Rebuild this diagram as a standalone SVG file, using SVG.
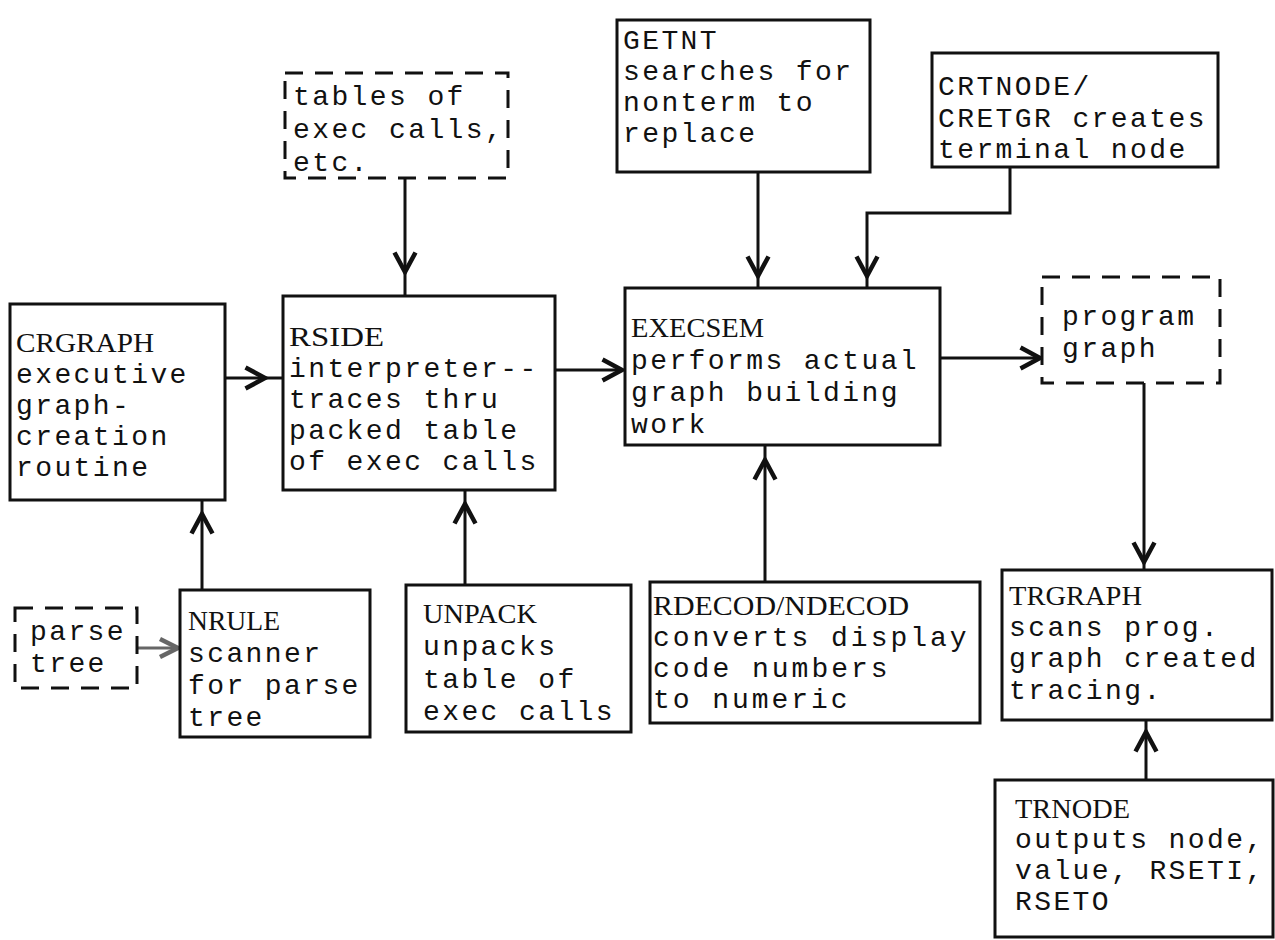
<svg xmlns="http://www.w3.org/2000/svg" width="1275" height="940" viewBox="0 0 1275 940">
<defs>
<style>
.box{fill:#fff;stroke:#111;stroke-width:3}
.dbox{fill:#fff;stroke:#111;stroke-width:3;stroke-dasharray:18 12}
.b{font-family:"Liberation Mono","Courier New",monospace;font-size:28px;letter-spacing:2.4px;fill:#111}
.t{font-family:"Liberation Serif","Times New Roman",serif;font-size:27px;fill:#111}
.c{fill:none;stroke:#111;stroke-width:3}
.g{fill:none;stroke:#666;stroke-width:3}
</style>
<marker id="ah" markerUnits="userSpaceOnUse" markerWidth="30" markerHeight="30" viewBox="-16 -10 20 20" refX="0" refY="0" orient="auto">
<path d="M-13,-7 L0,0 L-13,7" fill="none" stroke="#111" stroke-width="3"/>
</marker>
<marker id="ahg" markerUnits="userSpaceOnUse" markerWidth="30" markerHeight="30" viewBox="-16 -10 20 20" refX="0" refY="0" orient="auto">
<path d="M-12,-6 L0,0 L-12,6" fill="none" stroke="#666" stroke-width="3"/>
</marker>
</defs>
<rect width="1275" height="940" fill="#fff"/>

<g id="connectors">
<line class="c" x1="405" y1="178" x2="405" y2="272" marker-end="url(#ah)"/>
<line class="c" x1="405" y1="272" x2="405" y2="296"/>
<line class="c" x1="758" y1="172" x2="758" y2="276" marker-end="url(#ah)"/>
<line class="c" x1="758" y1="276" x2="758" y2="288"/>
<path class="c" d="M1010,167 V213 H867 V276" marker-end="url(#ah)"/>
<line class="c" x1="867" y1="276" x2="867" y2="288"/>
<line class="c" x1="225" y1="378" x2="265" y2="378" marker-end="url(#ah)"/>
<line class="c" x1="265" y1="378" x2="283" y2="378"/>
<line class="c" x1="555" y1="370" x2="622" y2="370" marker-end="url(#ah)"/>
<line class="c" x1="940" y1="358" x2="1040" y2="358" marker-end="url(#ah)"/>
<line class="c" x1="1144" y1="383" x2="1144" y2="562" marker-end="url(#ah)"/>
<line class="c" x1="1144" y1="562" x2="1144" y2="570"/>
<line class="c" x1="202" y1="590" x2="202" y2="514" marker-end="url(#ah)"/>
<line class="c" x1="202" y1="514" x2="202" y2="500"/>
<line class="c" x1="465" y1="585" x2="465" y2="504" marker-end="url(#ah)"/>
<line class="c" x1="465" y1="504" x2="465" y2="490"/>
<line class="c" x1="765" y1="582" x2="765" y2="460" marker-end="url(#ah)"/>
<line class="c" x1="765" y1="460" x2="765" y2="445"/>
<line class="c" x1="1146" y1="780" x2="1146" y2="732" marker-end="url(#ah)"/>
<line class="c" x1="1146" y1="732" x2="1146" y2="720"/>
<line class="g" x1="137" y1="648" x2="178" y2="648" marker-end="url(#ahg)"/>
</g>

<g id="tables">
<rect class="dbox" x="285" y="73" width="223" height="105"/>
<text class="b" x="293" y="105">tables of</text>
<text class="b" x="293" y="138">exec calls,</text>
<text class="b" x="293" y="171">etc.</text>
</g>

<g id="getnt">
<rect class="box" x="617" y="20" width="253" height="152"/>
<text class="b" x="623" y="49">GETNT</text>
<text class="b" x="623" y="80">searches for</text>
<text class="b" x="623" y="111">nonterm to</text>
<text class="b" x="623" y="142">replace</text>
</g>

<g id="crtnode">
<rect class="box" x="932" y="53" width="286" height="114"/>
<text class="b" x="938" y="95">CRTNODE/</text>
<text class="b" x="938" y="127">CRETGR creates</text>
<text class="b" x="938" y="158">terminal node</text>
</g>

<g id="crgraph">
<rect class="box" x="10" y="304" width="215" height="196"/>
<text class="t" x="16" y="352" textLength="138" lengthAdjust="spacingAndGlyphs">CRGRAPH</text>
<text class="b" x="16" y="383">executive</text>
<text class="b" x="16" y="414">graph-</text>
<text class="b" x="16" y="445">creation</text>
<text class="b" x="16" y="476">routine</text>
</g>

<g id="rside">
<rect class="box" x="283" y="296" width="272" height="194"/>
<text class="t" x="289" y="346" textLength="95" lengthAdjust="spacingAndGlyphs">RSIDE</text>
<text class="b" x="289" y="377">interpreter--</text>
<text class="b" x="289" y="408">traces thru</text>
<text class="b" x="289" y="439">packed table</text>
<text class="b" x="289" y="470">of exec calls</text>
</g>

<g id="execsem">
<rect class="box" x="625" y="288" width="315" height="157"/>
<text class="t" x="631" y="337" textLength="133" lengthAdjust="spacingAndGlyphs">EXECSEM</text>
<text class="b" x="631" y="369">performs actual</text>
<text class="b" x="631" y="401">graph building</text>
<text class="b" x="631" y="433">work</text>
</g>

<g id="program-graph">
<rect class="dbox" x="1042" y="277" width="178" height="106"/>
<text class="b" x="1062" y="325">program</text>
<text class="b" x="1062" y="357">graph</text>
</g>

<g id="parse-tree">
<rect class="dbox" x="15" y="608" width="122" height="80"/>
<text class="b" x="30" y="640">parse</text>
<text class="b" x="30" y="672">tree</text>
</g>

<g id="nrule">
<rect class="box" x="180" y="590" width="190" height="147"/>
<text class="t" x="188" y="630" textLength="92" lengthAdjust="spacingAndGlyphs">NRULE</text>
<text class="b" x="188" y="662">scanner</text>
<text class="b" x="188" y="694">for parse</text>
<text class="b" x="188" y="726">tree</text>
</g>

<g id="unpack">
<rect class="box" x="406" y="585" width="225" height="147"/>
<text class="t" x="423" y="623" textLength="114" lengthAdjust="spacingAndGlyphs">UNPACK</text>
<text class="b" x="423" y="655">unpacks</text>
<text class="b" x="423" y="688">table of</text>
<text class="b" x="423" y="720">exec calls</text>
</g>

<g id="rdecod">
<rect class="box" x="650" y="582" width="330" height="141"/>
<text class="t" x="653" y="615" textLength="256" lengthAdjust="spacingAndGlyphs">RDECOD/NDECOD</text>
<text class="b" x="653" y="646" textLength="316">converts display</text>
<text class="b" x="653" y="677" textLength="237">code numbers</text>
<text class="b" x="653" y="708" textLength="197">to numeric</text>
</g>

<g id="trgraph">
<rect class="box" x="1002" y="570" width="270" height="150"/>
<text class="t" x="1009" y="605" textLength="133" lengthAdjust="spacingAndGlyphs">TRGRAPH</text>
<text class="b" x="1009" y="636">scans prog.</text>
<text class="b" x="1009" y="667">graph created</text>
<text class="b" x="1009" y="699">tracing.</text>
</g>

<g id="trnode">
<rect class="box" x="995" y="780" width="278" height="157"/>
<text class="t" x="1015" y="818" textLength="115" lengthAdjust="spacingAndGlyphs">TRNODE</text>
<text class="b" x="1015" y="848">outputs node,</text>
<text class="b" x="1015" y="879">value, RSETI,</text>
<text class="b" x="1015" y="910">RSETO</text>
</g>
</svg>
